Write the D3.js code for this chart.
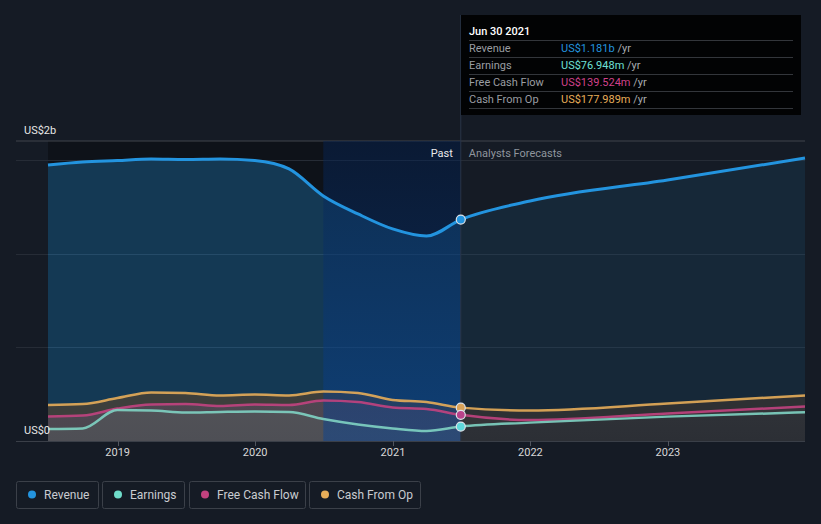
<!DOCTYPE html>
<html><head><meta charset="utf-8">
<script src="https://cdn.jsdelivr.net/npm/d3@7"></script>
<style>
html,body{margin:0;padding:0;background:#151b25;}
svg{display:block;font-family:Roboto,"Noto Sans",sans-serif;}
</style></head>
<body><svg id="c" width="821" height="524"></svg>
<script>
// ---- data ----
const dates = ["2018-06-30","2018-09-30","2018-12-31","2019-03-31","2019-06-30","2019-09-30","2019-12-31","2020-03-31","2020-06-30","2020-09-30","2020-12-31","2021-03-31","2021-06-30","2021-12-31","2022-12-31","2023-12-31"];
const revenue  = [1.472,1.488,1.496,1.504,1.501,1.504,1.496,1.451,1.307,1.211,1.131,1.093,1.181,1.280,1.392,1.509];
const earnings = [0.064,0.067,0.165,0.163,0.152,0.155,0.157,0.155,0.117,0.088,0.067,0.053,0.077,0.098,0.130,0.153];
const fcf      = [0.131,0.136,0.173,0.195,0.197,0.187,0.195,0.192,0.216,0.208,0.179,0.171,0.1395,0.112,0.147,0.184];
const cfo      = [0.192,0.197,0.229,0.259,0.256,0.243,0.248,0.243,0.264,0.256,0.219,0.208,0.178,0.163,0.200,0.243];
const xTickLabels = ["2019","2020","2021","2022","2023"];
const yTickLabels = ["US$0","US$2b"];
const yGrid = [0.5,1.0,1.5];
const yMax = 1.6;
const pastEnd = "2021-06-30";
const bandStart = "2020-06-30";
const seriesNames = ["Revenue","Earnings","Free Cash Flow","Cash From Op"];
const seriesColors = ["#2394df","#6fdcca","#c2427f","#e7ad59"];
const tooltipTitle = "Jun 30 2021";
const tooltipValues = ["US$1.181b","US$76.948m","US$139.524m","US$177.989m"];

// ---- setup ----
const svg = d3.select("#c");
const parse = d3.timeParse("%Y-%m-%d");
const D = dates.map(parse);
const L = 16, R = 805, T = 141, B = 441;
const x = d3.scaleTime().domain(d3.extent(D)).range([48, 805]);
const y = d3.scaleLinear().domain([0, yMax]).range([B, T]);
const xp = x(parse(pastEnd)), xb = x(parse(bandStart));

const defs = svg.append("defs");
defs.append("clipPath").attr("id","pastClip").append("rect").attr("x",0).attr("y",0).attr("width",xp).attr("height",524);
defs.append("clipPath").attr("id","foreClip").append("rect").attr("x",xp).attr("y",0).attr("width",821-xp).attr("height",524);
function vgrad(id, c1, o1, c2, o2){
  const g = defs.append("linearGradient").attr("id",id).attr("gradientUnits","userSpaceOnUse")
    .attr("x1",0).attr("x2",0).attr("y1",T).attr("y2",B);
  g.append("stop").attr("offset",0).attr("stop-color",c1).attr("stop-opacity",o1);
  g.append("stop").attr("offset",1).attr("stop-color",c2).attr("stop-opacity",o2);
}
vgrad("bandG","#06224f",0.5,"#0a4494",0.5);
vgrad("tealPast","#6c6869",1,"#4e4f55",1);
vgrad("tealFore","#47494e",1,"#2c2f35",1);
vgrad("pinkPast","#5a4a53",1,"#4c4650",1);

// past darker region
svg.append("rect").attr("x",48).attr("y",T).attr("width",xp-48).attr("height",B-T).attr("fill","#000").attr("opacity",0.3);

// grid
svg.append("line").attr("x1",L).attr("x2",R).attr("y1",T).attr("y2",T).attr("stroke","#40444c").attr("stroke-width",1);
svg.selectAll(".grid").data(yGrid).enter().append("line")
  .attr("x1",L).attr("x2",R).attr("y1",d=>Math.round(y(d))+0.5).attr("y2",d=>Math.round(y(d))+0.5)
  .attr("stroke","#262c36").attr("stroke-width",1);

const mk = vals => D.map((d,i)=>({d, v: vals[i]}));
const area = d3.area().x(p=>x(p.d)).y0(y(0)).y1(p=>y(p.v)).curve(d3.curveMonotoneX);
const line = d3.line().x(p=>x(p.d)).y(p=>y(p.v)).curve(d3.curveMonotoneX);

// revenue area
svg.append("path").attr("d",area(mk(revenue))).attr("fill","#2394df").attr("opacity",0.3).attr("clip-path","url(#pastClip)");
svg.append("path").attr("d",area(mk(revenue))).attr("fill","#2394df").attr("opacity",0.11).attr("clip-path","url(#foreClip)");

// small areas
const small = [[cfo,"#3d3f3c","#2e3033"],[fcf,"url(#pinkPast)","#343438"],[earnings,"url(#tealPast)","url(#tealFore)"]];
small.forEach(([vals,pc,fc])=>{
  svg.append("path").attr("d",area(mk(vals))).attr("fill",pc).attr("clip-path","url(#pastClip)");
  svg.append("path").attr("d",area(mk(vals))).attr("fill",fc).attr("clip-path","url(#foreClip)");
});

// highlight band
svg.append("rect").attr("x",xb).attr("y",T).attr("width",xp-xb).attr("height",B-T).attr("fill","url(#bandG)");

// divider
svg.append("line").attr("x1",xp).attr("x2",xp).attr("y1",15).attr("y2",B).attr("stroke","#2a3548").attr("stroke-width",1);

// lines
const lineSets = [[cfo,seriesColors[3]],[fcf,seriesColors[2]],[earnings,"#7fd3c3"],[revenue,seriesColors[0]]];
lineSets.forEach(([vals,c],i)=>{
  svg.append("path").attr("d",line(mk(vals))).attr("fill","none").attr("stroke",c)
    .attr("stroke-width", i===3?3:2.5).attr("stroke-opacity", i===3?1:0.9);
});

// x axis
svg.append("line").attr("x1",L).attr("x2",R).attr("y1",B+0.5).attr("y2",B+0.5).attr("stroke","#3a3f48");
const yearDates = xTickLabels.map(s=>parse(s+"-01-01"));
svg.selectAll(".xt").data(yearDates).enter().append("line")
  .attr("x1",d=>Math.round(x(d))+0.5).attr("x2",d=>Math.round(x(d))+0.5).attr("y1",B).attr("y2",B+5).attr("stroke","#50555e");
svg.selectAll(".xl").data(xTickLabels).enter().append("text")
  .attr("x",(d,i)=>x(yearDates[i])).attr("y",456).attr("text-anchor","middle")
  .attr("fill","#d8d8d8").attr("font-size",11).text(d=>d);

// y labels
svg.append("text").attr("x",24).attr("y",434).attr("fill","#e6e6e6").attr("font-size",11).text(yTickLabels[0]);
svg.append("text").attr("x",24).attr("y",134).attr("fill","#e6e6e6").attr("font-size",11).text(yTickLabels[1]);

// past / forecast labels
svg.append("text").attr("x",xp-8).attr("y",157).attr("text-anchor","end").attr("fill","#eaeaea").attr("font-size",11).text("Past");
svg.append("text").attr("x",xp+8).attr("y",157).attr("fill","#8f959d").attr("font-size",11).text("Analysts Forecasts");

// dots
const last = dates.indexOf(pastEnd);
[[cfo,"#d9a258"],[fcf,"#b8428a"],[earnings,"#5fd8dc"],[revenue,"#2394df"]].forEach(([vals,c])=>{
  svg.append("circle").attr("cx",xp).attr("cy",y(vals[last])).attr("r",4.5)
    .attr("fill",c).attr("stroke","#dde3ea").attr("stroke-width",1.2);
});

// tooltip
const tt = svg.append("g");
tt.append("rect").attr("x",461).attr("y",15).attr("width",340).attr("height",100).attr("fill","#020304");
tt.append("text").attr("x",469).attr("y",35).attr("fill","#ffffff").attr("font-size",11).attr("font-weight",500).text(tooltipTitle);
[40,57,74,91,108].forEach(v=>tt.append("line").attr("x1",469).attr("x2",793).attr("y1",v+0.5).attr("y2",v+0.5).attr("stroke","#33363b"));
const tooltipColors = ["#2394df","#6fe0d6","#d0418a","#e7ad59"];
seriesNames.forEach((n,i)=>{
  const cy = 52 + i*17;
  tt.append("text").attr("x",469).attr("y",cy).attr("fill","#9a9da2").attr("font-size",11).text(n);
  const t = tt.append("text").attr("x",561).attr("y",cy).attr("font-size",11);
  t.append("tspan").attr("fill",tooltipColors[i]).text(tooltipValues[i]);
  t.append("tspan").attr("fill","#a8abb0").text(" /yr");
});

// legend
const legendX = [16,102,189,309], legendW = [82,82,116,111];
seriesNames.forEach((n,i)=>{
  const g = svg.append("g").attr("transform",`translate(${legendX[i]},481)`);
  g.append("rect").attr("x",0.5).attr("y",0.5).attr("width",legendW[i]).attr("height",27).attr("rx",2)
    .attr("fill","none").attr("stroke","#3b4049");
  g.append("circle").attr("cx",16).attr("cy",13.5).attr("r",4).attr("fill",seriesColors[i]);
  g.append("text").attr("x",28).attr("y",18).attr("fill","#c9ccd1").attr("font-size",12).text(n);
});
</script></body></html>
